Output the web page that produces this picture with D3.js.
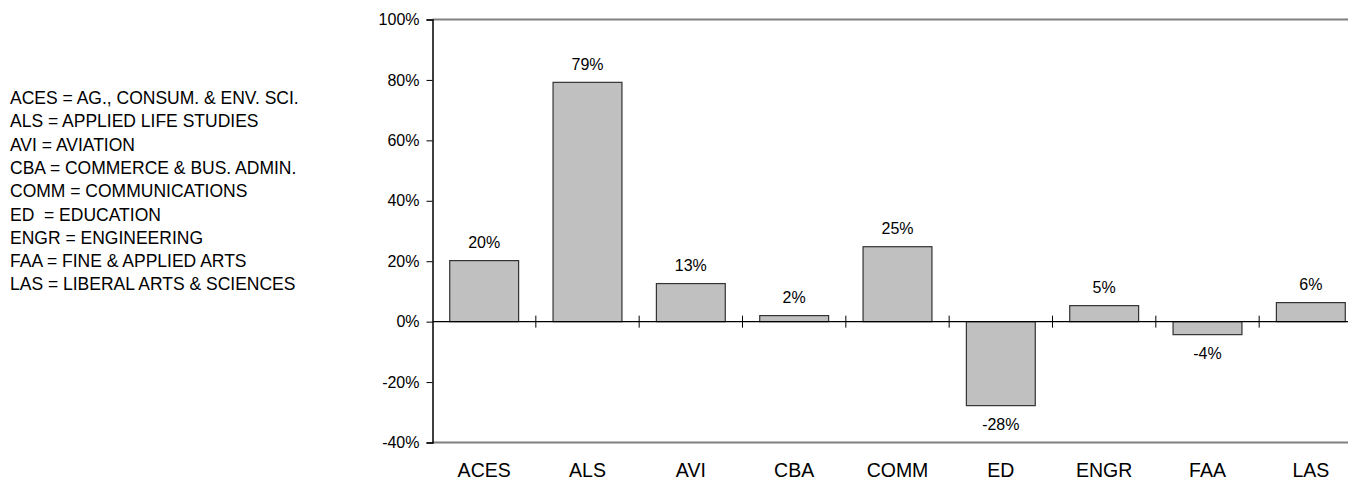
<!DOCTYPE html>
<html>
<head>
<meta charset="utf-8">
<script src="https://cdn.jsdelivr.net/npm/d3@7"></script>
<style>
  html, body { margin: 0; padding: 0; background: #fff; }
  svg { display: block; font-family: "Liberation Sans", Arial, sans-serif; }
</style>
</head>
<body>
<svg id="chart" width="1348" height="480"></svg>
<script>
// ---- data ----
const categories = ["ACES", "ALS", "AVI", "CBA", "COMM", "ED", "ENGR", "FAA", "LAS"];
const values = [0.202, 0.792, 0.126, 0.02, 0.248, -0.278, 0.053, -0.043, 0.063];
const valueLabels = ["20%", "79%", "13%", "2%", "25%", "-28%", "5%", "-4%", "6%"];
const yTicks = [-0.4, -0.2, 0, 0.2, 0.4, 0.6, 0.8, 1.0];
const legendLines = [
  "ACES = AG., CONSUM. & ENV. SCI.",
  "ALS = APPLIED LIFE STUDIES",
  "AVI = AVIATION",
  "CBA = COMMERCE & BUS. ADMIN.",
  "COMM = COMMUNICATIONS",
  "ED  = EDUCATION",
  "ENGR = ENGINEERING",
  "FAA = FINE & APPLIED ARTS",
  "LAS = LIBERAL ARTS & SCIENCES"
];

(function () {
const svg = d3.select("#chart");
const mLeft = 432.5, mTop = 19.5, mBottom = 442.5, mRight = 1362.5;

const x = d3.scaleBand().domain(categories).range([mLeft, mRight])
  .paddingInner(1/3).paddingOuter(1/6);
const xb = d3.scaleBand().domain(categories).range([mLeft, mRight]);
const y = d3.scaleLinear().domain([-0.4, 1.0]).range([mBottom, mTop]);

const fmt = v => Math.round(v * 100) + "%";

// top / bottom grey frame lines
svg.append("line").attr("x1", mLeft).attr("x2", 1348).attr("y1", y(1.0)).attr("y2", y(1.0))
  .attr("stroke", "#808080").attr("stroke-width", 2);
svg.append("line").attr("x1", mLeft).attr("x2", 1348).attr("y1", y(-0.4)).attr("y2", y(-0.4))
  .attr("stroke", "#808080").attr("stroke-width", 2);

// bars
svg.append("g").selectAll("rect").data(categories).join("rect")
  .attr("x", d => x(d))
  .attr("width", x.bandwidth())
  .attr("y", (d, i) => y(Math.max(0, values[i])))
  .attr("height", (d, i) => Math.abs(y(values[i]) - y(0)))
  .attr("fill", "#c0c0c0")
  .attr("stroke", "#333")
  .attr("stroke-width", 1.2);

// zero line with category ticks
svg.append("line").attr("x1", mLeft).attr("x2", 1348).attr("y1", y(0)).attr("y2", y(0))
  .attr("stroke", "#000").attr("stroke-width", 1.2);
svg.append("g").selectAll("line").data(categories.slice(1)).join("line")
  .attr("x1", d => xb(d)).attr("x2", d => xb(d))
  .attr("y1", y(0) - 6).attr("y2", y(0) + 6)
  .attr("stroke", "#000").attr("stroke-width", 1);

// y axis
const yAxis = d3.axisLeft(y).tickValues(yTicks).tickFormat(fmt).tickSize(6).tickPadding(7);
const gy = svg.append("g").attr("transform", `translate(${mLeft},0)`).call(yAxis);
gy.select(".domain").attr("stroke", "#000").attr("stroke-width", 1.5);
gy.selectAll(".tick line").attr("stroke", "#000");
gy.selectAll(".tick text").attr("font-size", 16).attr("fill", "#000")
  .attr("font-family", "Liberation Sans, Arial, sans-serif");

// category labels
const xAxis = d3.axisBottom(x).tickSize(0).tickPadding(0);
const gx = svg.append("g").attr("transform", `translate(0,${mBottom})`).call(xAxis);
gx.select(".domain").remove();
gx.selectAll(".tick text").attr("font-size", 19.5).attr("fill", "#000")
  .attr("dy", null).attr("y", 34.5)
  .attr("font-family", "Liberation Sans, Arial, sans-serif");

// value labels
svg.append("g").selectAll("text").data(categories).join("text")
  .attr("x", d => x(d) + x.bandwidth() / 2)
  .attr("y", (d, i) => values[i] >= 0 ? y(values[i]) - 12.5 : y(values[i]) + 24.5)
  .attr("text-anchor", "middle")
  .attr("font-size", 16)
  .attr("fill", "#000")
  .text((d, i) => valueLabels[i]);

// legend text
svg.append("g").selectAll("text").data(legendLines).join("text")
  .attr("x", 10)
  .attr("y", (d, i) => 104 + i * 23.3)
  .attr("font-size", 17.5)
  .attr("fill", "#000")
  .attr("xml:space", "preserve")
  .style("white-space", "pre")
  .text(d => d);
})();
</script>
</body>
</html>
